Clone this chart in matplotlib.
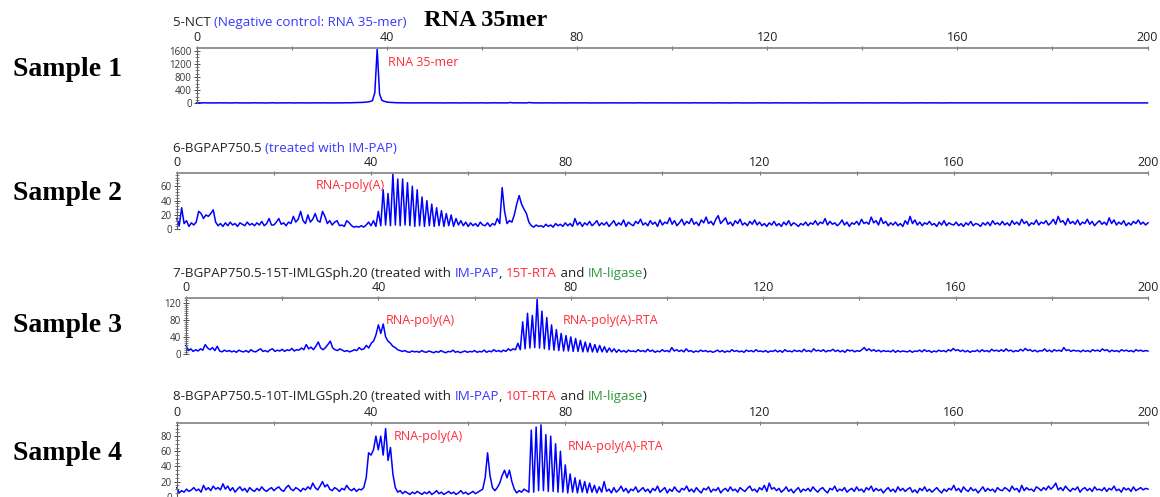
import matplotlib
matplotlib.use("Agg")
import matplotlib.pyplot as plt
import numpy as np
from matplotlib.ticker import MultipleLocator

plt.rcParams['font.family'] = ['Open Sans', 'DejaVu Sans']

# === Datos (tamaño en nt, paso 0.5) ===
size_nt = np.arange(0, 200.5, 0.5)

# 5-NCT
p1 = [
    12, 14, 10, 15, 12, 11, 14, 10, 13, 12, 15, 11, 12, 14, 10, 12, 13, 15, 11, 12,
    14, 12, 10, 13, 15, 12, 11, 14, 12, 10, 13, 12, 16, 11, 12, 14, 13, 11, 12, 15,
    12, 10, 14, 13, 12, 15, 11, 12, 13, 16, 12, 14, 11, 13, 15, 12, 14, 11, 13, 16,
    14, 12, 15, 18, 14, 16, 20, 17, 22, 25, 28, 35, 42, 55, 80, 320, 1650, 280, 90, 60,
    40, 30, 25, 20, 18, 16, 15, 14, 15, 13, 12, 14, 12, 13, 11, 12, 14, 12, 13, 12,
    11, 13, 12, 14, 10, 12, 13, 11, 12, 14, 12, 10, 13, 12, 15, 11, 12, 13, 11, 12,
    14, 12, 11, 13, 12, 15, 13, 12, 14, 11, 12, 13, 25, 14, 12, 13, 15, 12, 14, 13,
    25, 15, 13, 12, 14, 11, 12, 13, 12, 14, 11, 13, 12, 14, 12, 11, 13, 12, 15, 12,
    13, 11, 12, 14, 12, 13, 11, 12, 14, 12, 13, 12, 11, 14, 12, 13, 12, 14, 11, 12,
    13, 12, 14, 11, 12, 13, 12, 15, 12, 13, 11, 12, 14, 13, 12, 11, 13, 12, 14, 12,
    12, 14, 11, 13, 12, 14, 12, 11, 13, 12, 15, 12, 13, 11, 14, 12, 13, 12, 11, 14,
    13, 12, 14, 12, 11, 13, 12, 14, 12, 13, 11, 12, 14, 13, 12, 11, 14, 12, 13, 12,
    12, 13, 11, 14, 12, 13, 12, 11, 14, 12, 13, 12, 14, 11, 13, 12, 14, 12, 11, 13,
    14, 12, 13, 11, 12, 14, 12, 13, 12, 11, 14, 12, 13, 12, 14, 11, 12, 13, 12, 14,
    11, 13, 12, 14, 12, 11, 13, 12, 14, 13, 12, 11, 13, 12, 14, 12, 13, 11, 12, 14,
    12, 13, 11, 12, 14, 12, 13, 12, 11, 14, 12, 13, 12, 14, 11, 13, 12, 14, 12, 13,
    13, 12, 14, 11, 12, 13, 12, 14, 12, 11, 13, 12, 14, 12, 13, 11, 12, 14, 12, 13,
    12, 14, 11, 13, 12, 14, 12, 11, 13, 12, 14, 12, 13, 11, 14, 12, 13, 12, 11, 14,
    13, 12, 14, 12, 11, 13, 12, 14, 12, 13, 11, 12, 14, 13, 12, 11, 14, 12, 13, 12,
    12, 13, 11, 14, 12, 13, 12, 11, 14, 12, 13, 12, 14, 11, 13, 12, 14, 12, 11, 13,
    12,
]

# 6-BGPAP750.5
p2 = [
    15, 5, 30, 8, 12, 4, 9, 6, 10, 25, 22, 15, 20, 18, 22, 27, 10, 5, 8, 4,
    9, 5, 10, 6, 8, 4, 9, 7, 5, 10, 6, 8, 5, 9, 6, 11, 5, 8, 15, 6,
    6, 10, 15, 7, 9, 5, 10, 8, 18, 10, 14, 25, 12, 8, 20, 10, 14, 22, 12, 10,
    25, 18, 8, 12, 6, 10, 12, 5, 6, 4, 12, 9, 5, 3, 4, 3, 5, 3, 6, 10,
    5, 12, 4, 25, 5, 55, 6, 50, 5, 77, 6, 70, 5, 70, 6, 65, 5, 60, 4, 55,
    5, 45, 4, 40, 5, 35, 4, 30, 5, 26, 4, 22, 5, 20, 4, 15, 6, 12, 5, 10,
    4, 9, 5, 8, 4, 10, 6, 5, 9, 4, 8, 6, 15, 8, 58, 25, 8, 12, 10, 20,
    35, 47, 35, 28, 22, 10, 5, 3, 6, 4, 5, 3, 7, 4, 6, 3, 8, 5, 7, 4,
    9, 5, 8, 4, 15, 6, 10, 4, 9, 6, 11, 5, 8, 12, 5, 9, 6, 10, 4, 8,
    12, 5, 9, 6, 13, 4, 10, 7, 5, 11, 8, 14, 6, 9, 5, 12, 7, 10, 4, 13,
    6, 10, 8, 16, 7, 12, 5, 9, 14, 6, 11, 8, 15, 7, 10, 5, 13, 9, 17, 8,
    11, 6, 14, 19, 8, 12, 16, 7, 10, 5, 12, 8, 14, 6, 9, 5, 11, 7, 13, 6,
    10, 5, 8, 4, 9, 6, 11, 5, 8, 4, 10, 6, 12, 5, 9, 7, 4, 8, 6, 10,
    5, 9, 7, 12, 6, 10, 8, 15, 6, 11, 7, 9, 5, 8, 13, 6, 10, 4, 9, 7,
    11, 6, 14, 8, 10, 7, 17, 9, 12, 6, 16, 8, 11, 5, 9, 6, 10, 5, 8, 4,
    12, 7, 18, 8, 13, 6, 10, 5, 9, 7, 11, 6, 8, 4, 10, 6, 12, 5, 9, 7,
    6, 10, 5, 8, 4, 9, 6, 11, 5, 8, 7, 4, 9, 6, 10, 5, 12, 7, 9, 6,
    11, 6, 9, 5, 12, 7, 10, 6, 14, 8, 11, 5, 9, 7, 13, 6, 10, 8, 12, 6,
    9, 14, 7, 18, 10, 12, 6, 15, 8, 11, 7, 13, 6, 10, 8, 14, 7, 11, 5, 9,
    12, 7, 10, 6, 16, 8, 13, 6, 10, 7, 12, 5, 9, 6, 11, 8, 13, 7, 10, 6,
    9,
]

# 7-BGPAP750.5-15T-IMLGSph.20
p3 = [
    20, 8, 12, 6, 10, 7, 12, 9, 22, 14, 10, 15, 8, 18, 7, 5, 9, 6, 8, 5,
    7, 4, 9, 6, 5, 8, 4, 10, 6, 5, 9, 12, 6, 8, 5, 10, 12, 6, 9, 7,
    11, 6, 10, 8, 13, 7, 10, 9, 14, 10, 22, 12, 16, 10, 18, 28, 14, 10, 15, 22,
    30, 14, 10, 8, 12, 9, 6, 8, 5, 7, 10, 8, 15, 10, 12, 20, 14, 25, 30, 45,
    68, 48, 70, 40, 30, 25, 18, 15, 10, 8, 6, 8, 5, 4, 7, 5, 6, 4, 8, 5,
    4, 7, 5, 3, 6, 4, 8, 5, 3, 6, 5, 9, 4, 6, 3, 5, 7, 4, 6, 5,
    8, 4, 6, 5, 9, 4, 7, 5, 10, 6, 8, 5, 9, 6, 12, 8, 12, 10, 25, 10,
    75, 12, 95, 14, 90, 15, 128, 14, 100, 12, 85, 10, 68, 9, 57, 8, 48, 7, 43, 7,
    40, 6, 36, 6, 32, 5, 28, 5, 25, 5, 22, 4, 20, 5, 17, 4, 14, 5, 12, 4,
    10, 5, 8, 4, 9, 6, 7, 5, 10, 6, 8, 5, 11, 6, 9, 4, 7, 5, 10, 6,
    8, 5, 15, 7, 10, 6, 9, 5, 12, 6, 8, 4, 7, 5, 9, 6, 8, 5, 7, 4,
    6, 9, 5, 8, 4, 7, 5, 10, 6, 8, 5, 7, 4, 9, 6, 8, 5, 10, 6, 7,
    5, 8, 4, 7, 6, 9, 5, 8, 4, 10, 6, 7, 5, 9, 6, 8, 5, 11, 6, 8,
    5, 12, 7, 9, 6, 10, 5, 8, 7, 11, 6, 9, 5, 8, 4, 10, 7, 9, 5, 8,
    6, 10, 15, 8, 12, 7, 10, 6, 9, 5, 8, 6, 7, 5, 9, 4, 8, 5, 7, 6,
    5, 8, 4, 7, 6, 9, 5, 10, 6, 8, 4, 7, 5, 9, 6, 8, 5, 10, 7, 13,
    8, 10, 6, 9, 5, 8, 4, 7, 6, 9, 5, 10, 6, 8, 5, 11, 7, 9, 6, 10,
    6, 12, 7, 9, 5, 8, 6, 11, 7, 13, 8, 10, 6, 9, 5, 8, 7, 12, 6, 9,
    5, 10, 7, 9, 6, 15, 8, 10, 6, 9, 7, 8, 5, 9, 6, 8, 5, 10, 7, 9,
    6, 12, 8, 10, 5, 9, 6, 8, 5, 10, 7, 9, 6, 8, 5, 10, 7, 9, 6, 8,
    7,
]

# 8-BGPAP750.5-10T-IMLGSph.20
p4 = [
    12, 5, 8, 6, 10, 7, 9, 12, 8, 10, 6, 15, 9, 12, 8, 14, 10, 12, 9, 17,
    10, 14, 8, 12, 6, 10, 13, 8, 11, 6, 12, 9, 7, 11, 8, 13, 9, 7, 10, 12,
    8, 11, 13, 9, 7, 12, 15, 10, 8, 12, 10, 7, 11, 9, 13, 10, 18, 12, 9, 14,
    20, 13, 16, 10, 8, 12, 10, 7, 11, 9, 15, 10, 8, 11, 7, 10, 9, 12, 25, 58,
    55, 62, 80, 62, 80, 55, 90, 48, 65, 30, 12, 6, 8, 4, 7, 5, 3, 6, 4, 7,
    5, 3, 6, 4, 7, 3, 5, 8, 4, 6, 3, 5, 7, 4, 6, 3, 5, 8, 4, 6,
    3, 5, 7, 4, 6, 8, 10, 25, 58, 28, 12, 8, 12, 18, 28, 35, 25, 35, 20, 10,
    5, 8, 6, 10, 8, 6, 88, 6, 92, 8, 95, 8, 82, 7, 80, 7, 70, 6, 60, 6,
    42, 5, 30, 6, 25, 5, 22, 6, 20, 5, 18, 6, 15, 5, 13, 6, 20, 7, 10, 5,
    12, 6, 9, 14, 7, 11, 5, 10, 8, 13, 6, 9, 12, 7, 10, 5, 11, 8, 14, 6,
    9, 12, 5, 10, 7, 13, 8, 6, 11, 9, 14, 7, 10, 6, 12, 8, 5, 11, 9, 13,
    6, 10, 8, 12, 5, 9, 11, 7, 13, 8, 10, 6, 12, 9, 7, 11, 14, 8, 10, 6,
    12, 9, 15, 7, 18, 10, 12, 8, 11, 6, 9, 13, 7, 10, 5, 9, 12, 6, 10, 8,
    11, 7, 13, 9, 6, 10, 12, 8, 5, 11, 9, 14, 7, 10, 8, 12, 6, 9, 11, 7,
    13, 8, 10, 6, 12, 9, 14, 7, 11, 8, 10, 5, 9, 12, 7, 10, 6, 13, 8, 11,
    7, 10, 12, 6, 9, 5, 11, 8, 13, 7, 10, 6, 9, 12, 8, 5, 10, 7, 11, 9,
    15, 8, 11, 6, 13, 9, 7, 12, 8, 10, 5, 9, 13, 7, 11, 8, 10, 6, 12, 9,
    8, 12, 10, 7, 14, 9, 11, 6, 15, 8, 12, 9, 10, 7, 13, 11, 8, 12, 9, 14,
    10, 13, 18, 9, 12, 8, 14, 10, 7, 11, 9, 13, 6, 10, 12, 8, 11, 7, 13, 9,
    10, 8, 12, 7, 11, 9, 14, 8, 10, 6, 12, 9, 11, 7, 13, 8, 10, 12, 9, 11,
    10,
]

traces = [p1, p2, p3, p4]
y_max = [1673, 78, 130, 97]
y_ticks = [[0, 400, 800, 1200, 1600], [0, 20, 40, 60], [0, 40, 80, 120], [0, 20, 40, 60, 80]]
y_minor = [100, 4, 5, 5]
samples = ['Sample 1', 'Sample 2', 'Sample 3', 'Sample 4']

BLUE = '#3838ff'
RED = '#ff2a3a'
GREEN = '#2e9a3c'
BLACK = '#222222'

titles = [
    [('5-NCT ', BLACK), ('(Negative control: RNA 35-mer)', BLUE)],
    [('6-BGPAP750.5 ', BLACK), ('(treated with IM-PAP)', BLUE)],
    [('7-BGPAP750.5-15T-IMLGSph.20 (treated with ', BLACK), ('IM-PAP', BLUE), (', ', BLACK),
     ('15T-RTA', RED), (' and ', BLACK), ('IM-ligase', GREEN), (')', BLACK)],
    [('8-BGPAP750.5-10T-IMLGSph.20 (treated with ', BLACK), ('IM-PAP', BLUE), (', ', BLACK),
     ('10T-RTA', RED), (' and ', BLACK), ('IM-ligase', GREEN), (')', BLACK)],
]

# etiquetas de picos: (x, y, texto)
peak_labels = [
    [(40.3, 1250, 'RNA 35-mer')],
    [(28.7, 61, 'RNA-poly(A)')],
    [(41.6, 78, 'RNA-poly(A)'), (78.4, 78, 'RNA-poly(A)-RTA')],
    [(44.7, 80, 'RNA-poly(A)'), (80.5, 67, 'RNA-poly(A)-RTA')],
]

# === Posiciones en pixeles (izq, der, tope, cero) ===
W, H = 1160, 497
boxes = [(196.5, 1147.5, 48.3, 103.3),
         (176.8, 1148.0, 173.3, 229.3),
         (186.0, 1148.0, 298.3, 354.0),
         (176.8, 1148.0, 423.3, 496.7)]
title_y = [22.7, 148.3, 273.3, 396.7]
sample_y = [70, 193, 325, 453]

fig = plt.figure(figsize=(W / 100, H / 100), dpi=100)

for i in range(4):
    l, r, t, z = boxes[i]
    ax = fig.add_axes([l / W, (H - z) / H, (r - l) / W, (z - t) / H])
    ax.plot(size_nt, traces[i], color='#0000ff', lw=1.1, clip_on=False)
    ax.set_xlim(0, 200)
    ax.set_ylim(0, y_max[i])

    for s in ['bottom', 'right']:
        ax.spines[s].set_visible(False)
    ax.spines['top'].set_color('#8a8a8a')
    ax.spines['top'].set_linewidth(1.3)
    ax.spines['left'].set_color('#606060')
    ax.spines['left'].set_linewidth(0.8)

    ax.xaxis.tick_top()
    ax.set_xticks(range(0, 201, 40))
    ax.set_xticks(range(20, 200, 40), minor=True)
    ax.tick_params(axis='x', which='both', direction='inout', length=3.5, width=0.8,
                   color='#707070', labelsize=9, pad=1, labelcolor=BLACK)

    ax.set_yticks(y_ticks[i])
    ax.yaxis.set_minor_locator(MultipleLocator(y_minor[i]))
    ax.tick_params(axis='y', which='major', direction='inout', length=4, width=0.7,
                   color='#505050', labelsize=7, pad=1.5, labelcolor='#333333')
    ax.tick_params(axis='y', which='minor', direction='inout', length=2.5, width=0.5,
                   color='#505050')

    for (lx, ly, txt) in peak_labels[i]:
        ax.text(lx, ly, txt, color=RED, fontsize=9, va='center', ha='left')

    # título multicolor
    parts = titles[i]
    prev = fig.text(173 / W, 1 - title_y[i] / H, parts[0][0], color=parts[0][1],
                    fontsize=9.6, va='center', ha='left')
    for txt, col in parts[1:]:
        prev = ax.annotate(txt, xy=(1, 0), xycoords=prev, va='bottom', ha='left',
                           color=col, fontsize=9.6, annotation_clip=False)

    fig.text(13 / W, 1 - sample_y[i] / H, samples[i], family='Liberation Serif',
             weight='bold', fontsize=20, va='center', ha='left', color='black')

fig.text(424 / W, 1 - 21 / H, 'RNA 35mer', family='Liberation Serif', weight='bold',
         fontsize=17.5, va='center', ha='left', color='black')

fig.savefig('out.png', dpi=100)
